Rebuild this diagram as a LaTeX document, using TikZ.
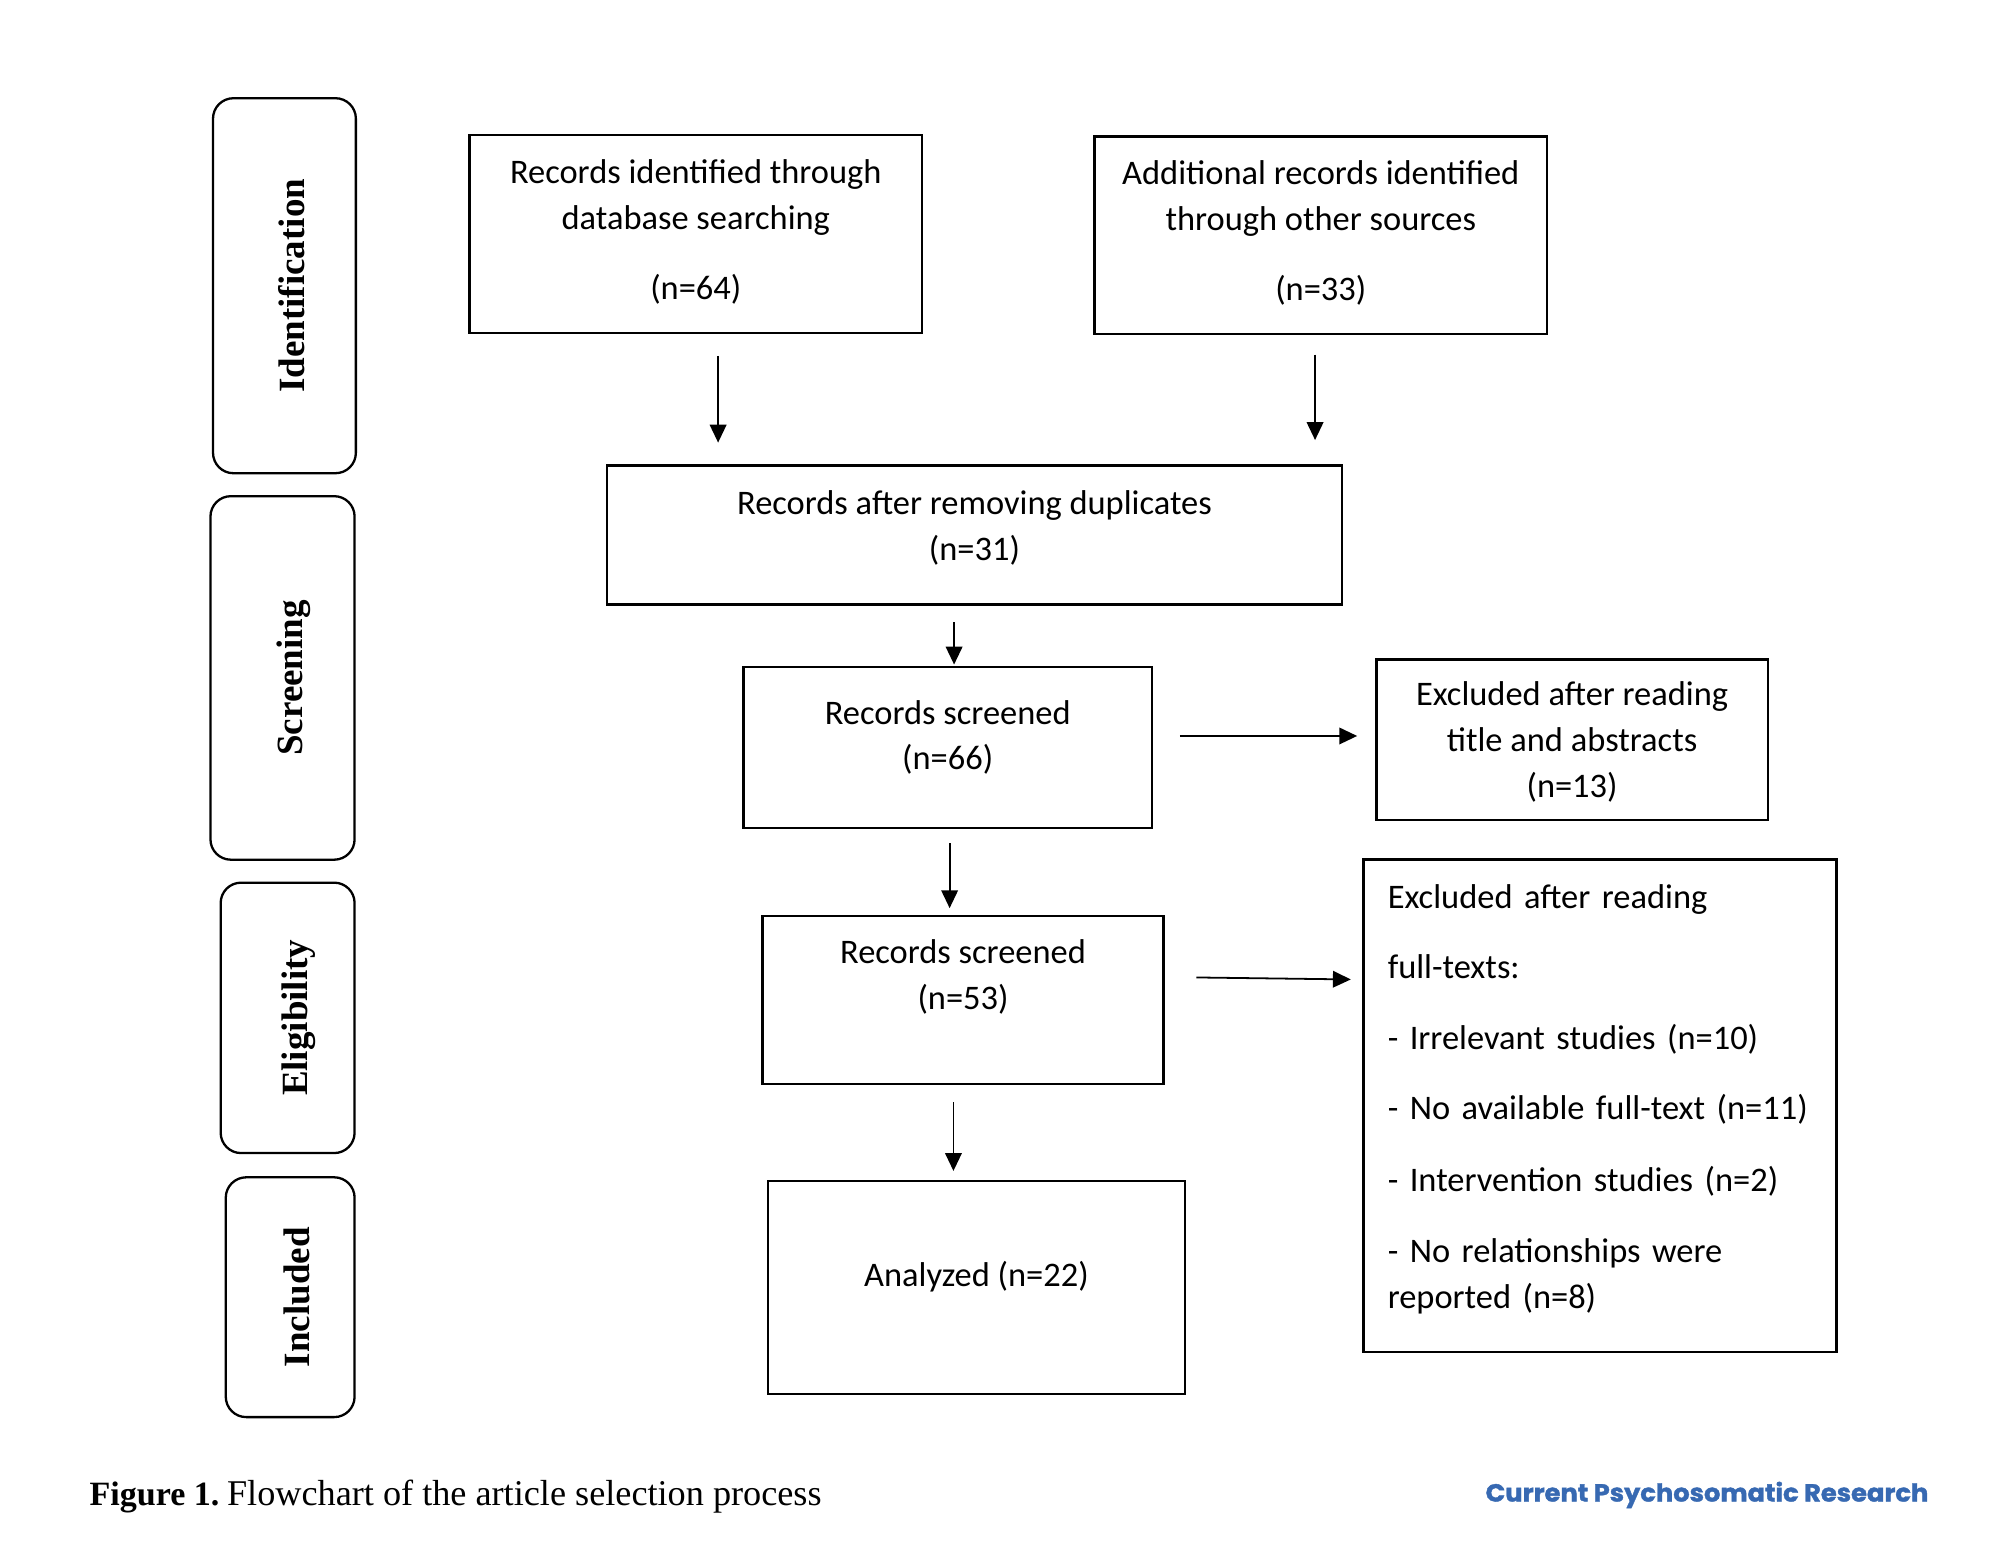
\documentclass[tikz,border=0pt]{standalone}
\usepackage{fontspec}
\setmainfont{Carlito}
\newfontfamily\timesfont{Liberation Serif}
\newfontfamily\logofont[BoldFeatures={FakeBold=1.5}]{Poppins}
\usetikzlibrary{arrows.meta}
\definecolor{logoblue}{RGB}{55,105,178}
\begin{document}
\begin{tikzpicture}[x=1pt,y=-1pt,
  box/.style={draw, line width=2.0pt, inner sep=0pt, align=center,
    font=\fontsize{27}{36}\selectfont},
  side/.style={draw, line width=1.8pt, rounded corners=16pt, rotate=90, inner sep=0pt,
    font=\timesfont\bfseries\fontsize{29}{34}\selectfont, text height=31pt, text depth=0pt},
  arr/.style={line width=1.4pt, -{Triangle[length=14pt,width=13pt]}}
]
\useasboundingbox (0,0) rectangle (1568,1225.4);
\fill[white] (0,0) rectangle (1568,1225.4);

% stage labels
\node[side, minimum width=294pt, minimum height=112pt] (s1) at (223,224) {Identification};
\node[side, minimum width=285pt, minimum height=113pt] (s2) at (221.5,531.5) {Screening};
\node[side, minimum width=212pt, minimum height=105pt] (s3) at (225.5,798) {Eligibility};
\node[side, minimum width=188pt, minimum height=101pt] (s4) at (227.5,1017) {Included};

% boxes
\node[box, minimum width=355pt, minimum height=155pt, text depth=7.5pt] (b1) at (545.5,183.5)
  {Records identified through\\database searching\\[19pt](n=64)};
\node[box, minimum width=355pt, minimum height=155pt, text depth=7.5pt] (b2) at (1035.5,184.5)
  {Additional records identified\\through other sources\\[19pt](n=33)};
\node[box, minimum width=576pt, minimum height=109pt, text depth=15.5pt] (b3) at (764,419.5)
  {Records after removing duplicates\\(n=31)};
\node[box, minimum width=320pt, minimum height=126pt, text depth=19.5pt] (b4) at (743,586)
  {Records screened\\(n=66)};
\node[box, minimum width=307pt, minimum height=126pt, text depth=0pt] (b5) at (1232.5,580)
  {Excluded after reading\\title and abstracts\\(n=13)};
\node[box, minimum width=314pt, minimum height=132pt, text depth=39.5pt] (b6) at (755,784)
  {Records screened\\(n=53)};
\node[box, align=left, text width=333pt, inner xsep=19pt, minimum height=386pt,
  text height=20pt, text depth=330pt] (b7) at (1254.5,867)
  {Excluded after reading\\[19pt]full-texts:\\[20pt]- Irrelevant studies (n=10)\\[19pt]- No available full-text (n=11)\\[20pt]- Intervention studies (n=2)\\[20pt]- No relationships were\\reported (n=8)};
\node[box, minimum width=327pt, minimum height=167pt, text depth=21.5pt] (b8) at (765.5,1009.5)
  {Analyzed (n=22)};

% arrow guide coordinates
\coordinate (xa1) at (563,0);
\coordinate (xa2) at (1031,0);
\coordinate (xa3) at (748,0);
\coordinate (xa5) at (744.5,0);
\coordinate (xa7) at (747.5,0);
\coordinate (ya4) at (0,577);
\coordinate (ya6s) at (0,766);
\coordinate (ya6e) at (0,768);

\draw[arr, shorten <=17pt, shorten >=17pt] (b1.south -| xa1) -- (b3.north -| xa1);
\draw[arr, shorten <=15pt, shorten >=19pt] (b2.south -| xa2) -- (b3.north -| xa2);
\draw[arr, shorten <=13pt, shorten >=1pt] (b3.south -| xa3) -- (b4.north -| xa3);
\draw[arr, shorten <=21pt, shorten >=14pt] (b4.east |- ya4) -- (b5.west |- ya4);
\draw[arr, shorten <=11pt, shorten >=5pt] (b4.south -| xa5) -- (b6.north -| xa5);
\draw[arr, shorten <=25pt, shorten >=9pt] (b6.east |- ya6s) -- (b7.west |- ya6e);
\draw[arr, shorten <=13pt, shorten >=7pt] (b6.south -| xa7) -- (b8.north -| xa7);

% caption and logo
\node[anchor=west, inner sep=0pt, font=\timesfont] (cap) at (70,1173)
  {{\fontsize{26.7}{33}\selectfont\textbf{Figure 1.}}\hspace{6pt}{\fontsize{28.4}{33}\selectfont Flowchart of the article selection process}};
\node[anchor=east, inner sep=0pt, text=logoblue, font=\logofont\bfseries] (logo) at (1512,1172)
  {\resizebox{347pt}{15.5pt}{Current Psychosomatic Research}};
\end{tikzpicture}
\end{document}
